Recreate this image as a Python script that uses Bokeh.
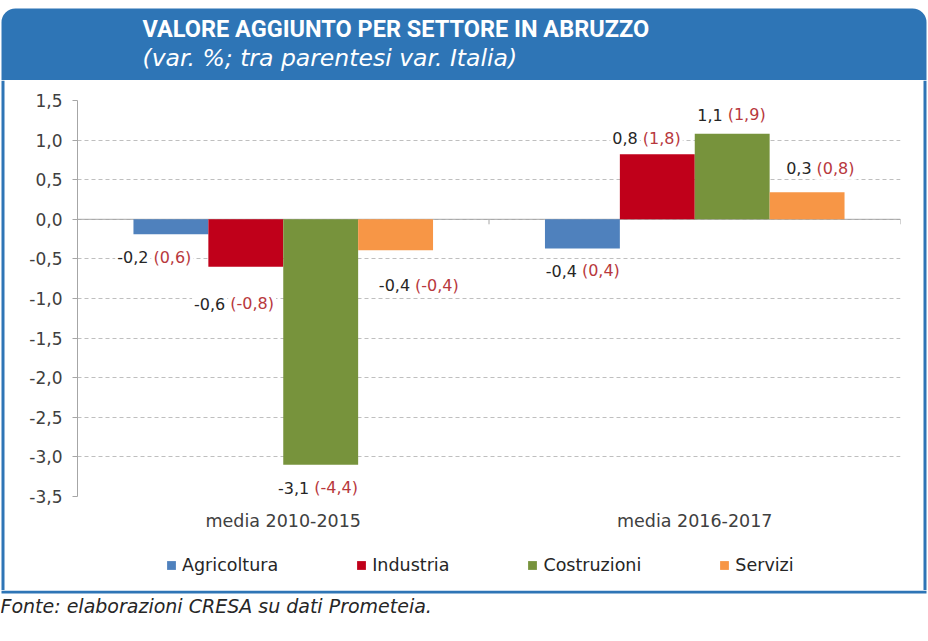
from bokeh.plotting import figure
from bokeh.layouts import column, row
from bokeh.models import (Range1d, FixedTicker, CustomJSTickFormatter, Span, Label,
                          Legend, LegendItem)
from bokeh.core.properties import value
from bokeh.embed import file_html
from bokeh.resources import INLINE

# ---------------- data ----------------
groups = ["media 2010-2015", "media 2016-2017"]
sectors = ["Agricoltura", "Industria", "Costruzioni", "Servizi"]
agricoltura = [-0.19, -0.37]
industria = [-0.60, 0.82]
costruzioni = [-3.10, 1.08]
servizi = [-0.39, 0.34]
agricoltura_it = [0.6, 0.4]
industria_it = [-0.8, 1.8]
costruzioni_it = [-4.4, 1.9]
servizi_it = [-0.4, 0.8]
y_ticks = [-3.5, -3.0, -2.5, -2.0, -1.5, -1.0, -0.5, 0.0, 0.5, 1.0, 1.5]

title = "VALORE AGGIUNTO PER SETTORE IN ABRUZZO"
subtitle = "(var. %;  tra parentesi var. Italia)"
footer = "Fonte: elaborazioni CRESA su dati Prometeia."

# ---------------- style ----------------
colors = ["#4F81BD", "#C0001A", "#77933C", "#F79646"]
BLUE = "#2E75B6"
FONT = "DejaVu Sans"
TXT = "#404040"
RED_TXT = "#B8383D"
# label nudges (px): (dx, distance from bar end) per sector per group
label_nudge = [
    [(-20, 23), (-3, 22)],
    [(-18, 37), (-17, 16)],
    [(-9, 23), (-7, 19)],
    [(17, 35), (7, 24)],
]

TOTAL_W = 928
HEAD_H = 80
SIDE_W = 8
MAIN_W = TOTAL_W - 2 * SIDE_W
MAIN_H = 461
LEG_H = 49
BOT_H = 51
MB_L, MB_R, MB_T, MB_B = 69, 20, 20, 45
frame_h = MAIN_H - MB_T - MB_B


def deco(w, h):
    f = figure(width=w, height=h, x_range=Range1d(0, w), y_range=Range1d(h, 0),
               x_axis_type=None, y_axis_type=None, output_backend="svg",
               toolbar_location=None, min_border=0)
    f.min_border_left = f.min_border_right = f.min_border_top = f.min_border_bottom = 0
    f.outline_line_color = None
    f.grid.visible = False
    f.background_fill_color = "white"
    f.border_fill_color = "white"
    return f


# ---------------- header ----------------
head = deco(TOTAL_W, HEAD_H)
head.quad(left=1, right=TOTAL_W - 2, top=8, bottom=HEAD_H, fill_color=BLUE,
          line_color=None, border_radius=(14, 14, 0, 0))
head.text(x=[142], y=[28], text=[title], text_baseline="middle",
          text_font=value("Roboto"), text_font_style="bold",
          text_font_size="23.5px", text_color="white")
head.text(x=[142], y=[57], text=[subtitle], text_baseline="middle",
          text_font=value(FONT), text_font_style="italic",
          text_font_size="23.5px", text_color="white")

# ---------------- side borders ----------------
side_h = MAIN_H + LEG_H
left = deco(SIDE_W, side_h)
left.segment(x0=[2.5], y0=[0], x1=[2.5], y1=[side_h], line_color=BLUE, line_width=3)
right = deco(SIDE_W, side_h)
right.segment(x0=[4.5], y0=[0], x1=[4.5], y1=[side_h], line_color=BLUE, line_width=3)

# ---------------- main chart ----------------
p = figure(width=MAIN_W, height=MAIN_H, x_range=Range1d(0, len(groups)),
           y_range=Range1d(y_ticks[0], y_ticks[-1]),
           output_backend="svg", toolbar_location=None,
           min_border_left=MB_L, min_border_right=MB_R,
           min_border_top=MB_T, min_border_bottom=MB_B)
p.outline_line_color = None
p.background_fill_color = "white"
p.border_fill_color = "white"
p.xgrid.visible = False

yt = FixedTicker(ticks=y_ticks)
p.yaxis.ticker = yt
p.ygrid.ticker = yt
p.ygrid.grid_line_color = "#BFBFBF"
p.ygrid.grid_line_dash = "4 3"
p.ygrid.grid_line_width = 1
p.yaxis.formatter = CustomJSTickFormatter(code="return tick.toFixed(1).replace('.', ',');")
p.yaxis.axis_line_color = "#A6A6A6"
p.yaxis.major_tick_line_color = "#A6A6A6"
p.yaxis.major_tick_out = 5
p.yaxis.major_tick_in = 0
p.yaxis.minor_tick_line_color = None
p.yaxis.major_label_standoff = 10
p.yaxis.major_label_text_font = FONT
p.yaxis.major_label_text_font_size = "17px"
p.yaxis.major_label_text_color = TXT

p.xaxis.ticker = FixedTicker(ticks=[i + 0.5 for i in range(len(groups))])
p.xaxis.formatter = CustomJSTickFormatter(args=dict(labels=groups),
                                          code="return labels[Math.floor(tick)];")
p.xaxis.axis_line_color = None
p.xaxis.major_tick_line_color = None
p.xaxis.minor_tick_line_color = None
p.xaxis.major_tick_out = 0
p.xaxis.major_tick_in = 0
p.xaxis.major_label_standoff = 14
p.xaxis.major_label_text_font = FONT
p.xaxis.major_label_text_font_size = "17.5px"
p.xaxis.major_label_text_color = TXT

# zero axis line and category boundary ticks
p.add_layout(Span(location=0, dimension="width", line_color="#A6A6A6",
                  line_width=1, level="underlay"))
px_unit = (y_ticks[-1] - y_ticks[0]) / frame_h
bx = list(range(len(groups) + 1))
p.segment(x0=bx, y0=[0] * len(bx), x1=bx, y1=[-5 * px_unit] * len(bx),
          line_color="#A6A6A6", line_width=1)

series = [agricoltura, industria, costruzioni, servizi]
series_it = [agricoltura_it, industria_it, costruzioni_it, servizi_it]
bw = 0.182


def fmt(v):
    return f"{round(v, 1):.1f}".replace(".", ",")


for j, (vals, vals_it, col) in enumerate(zip(series, series_it, colors)):
    xs = [i + 0.5 + (j - 1.5) * bw for i in range(len(groups))]
    p.vbar(x=xs, top=vals, bottom=0, width=bw, fill_color=col, line_color=None)
    for i, (x, v, vi) in enumerate(zip(xs, vals, vals_it)):
        dx, dy = label_nudge[j][i]
        yoff = dy if v >= 0 else -dy
        common = dict(x=x, y=v, y_offset=yoff, text_baseline="middle",
                      text_font=FONT, text_font_size="16px",
                      background_fill_color="white", padding=2)
        p.add_layout(Label(text=fmt(v), x_offset=dx - 0.5, text_align="right",
                           text_color="#262626", **common))
        p.add_layout(Label(text="(" + fmt(vi) + ")", x_offset=dx + 0.5,
                           text_align="left", text_color=RED_TXT, **common))

# ---------------- legend strip ----------------
leg = deco(MAIN_W, LEG_H)
nan = float("nan")
items = []
for name, col in zip(sectors, colors):
    r = leg.scatter(x=[nan], y=[nan], marker="square", size=9,
                    fill_color=col, line_color=None)
    items.append(LegendItem(label=name, renderers=[r]))
legend = Legend(items=items, orientation="horizontal", location=(83, 14),
                spacing=72, padding=0, margin=0, glyph_width=22, glyph_height=22,
                label_standoff=0, label_height=22, label_text_font=FONT,
                label_text_font_size="17.5px", label_text_color="#262626",
                background_fill_alpha=0, border_line_color=None)
leg.add_layout(legend, "center")

# ---------------- bottom border + footer ----------------
bot = deco(TOTAL_W, BOT_H)
bot.segment(x0=[1], y0=[1.5], x1=[TOTAL_W - 2], y1=[1.5], line_color=BLUE, line_width=3)
bot.text(x=[0], y=[15], text=[footer], text_baseline="middle",
         text_font=value(FONT), text_font_style="italic",
         text_font_size="19px", text_color="#262626")

layout = column(head, row(left, column(p, leg), right), bot)

open("out.html", "w").write(file_html(layout, INLINE))
